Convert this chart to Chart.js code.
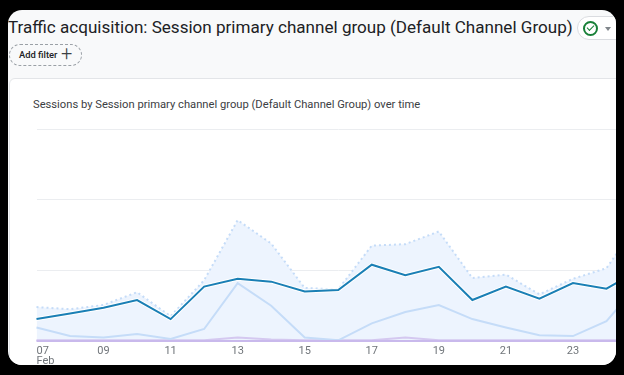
<!DOCTYPE html>
<html>
<head>
<meta charset="utf-8">
<script src="https://cdn.jsdelivr.net/npm/chart.js@4"></script>
<style>
html, body { margin: 0; padding: 0; width: 624px; height: 375px; overflow: hidden; background: #000; font-family: Roboto, Arial, sans-serif; }
#page { position: absolute; left: 8px; top: 10px; width: 608px; height: 355px; background: #f8f9fa; border-radius: 14px; overflow: hidden; }
#title { position: absolute; left: 0px; top: 5px; font-size: 17.07px; line-height: 24px; color: #202124; white-space: nowrap; }
#status { position: absolute; left: 569px; top: 6px; width: 50px; height: 22px; background: #fff; border: 1px solid #dadce0; border-radius: 12px; }
#status .check { position: absolute; left: 5px; top: 4px; width: 11px; height: 11px; border: 2px solid #188038; border-radius: 50%; }
#status .check:after { content: ""; position: absolute; left: 2px; top: 2px; width: 6px; height: 3px; border-left: 1.5px solid #188038; border-bottom: 1.5px solid #188038; transform: rotate(-45deg); }
#status .arrow { position: absolute; left: 27px; top: 10px; border: 3.5px solid transparent; border-top: 4px solid #80868b; }
#filter { position: absolute; left: 1px; top: 34px; width: 71px; height: 20px; border: 1px dashed #9aa0a6; border-radius: 11px; font-size: 9.4px; font-weight: 500; line-height: 20px; color: #202124; }
#filter span { position: absolute; left: 9px; }
#filter i { position: absolute; left: 51px; top: -2px; font-style: normal; font-size: 20px; font-weight: 300; line-height: 20px; color: #3c4043; }
#card { position: absolute; left: 1px; top: 68px; width: 640px; height: 300px; background: #fff; border: 1px solid #e3e5e8; border-radius: 6px; }
#sub { position: absolute; left: 23px; top: 19px; font-size: 11.2px; line-height: 14px; color: #3c4043; white-space: nowrap; }
#wrap { position: absolute; left: -8px; top: -10px; width: 680px; height: 375px; }
</style>
</head>
<body>
<div id="page">
  <div id="card"><div id="sub">Sessions by Session primary channel group (Default Channel Group) over time</div></div>
  <div id="title">Traffic acquisition: Session primary channel group (Default Channel Group)</div>
  <div id="status"><div class="check"></div><div class="arrow"></div></div>
  <div id="filter"><span>Add filter</span><i>+</i></div>
  <div id="wrap"><canvas id="trafficChart" width="680" height="375"></canvas></div>
</div>
<script>
const days = ['07','08','09','10','11','12','13','14','15','16','17','18','19','20','21','22','23','24','25'];
const yTicks = [0, 100, 200, 300];

// no axis labels in the reference so units are relative
const totalDotted = [48, 45, 51, 69, 35, 86, 171, 138, 75, 73, 135, 137, 155, 89, 94, 66, 88, 103, 171];
const organic = [31, 39, 47, 58, 31, 77, 88, 84, 70, 72, 108, 93, 105, 58, 77, 60, 82, 74, 101];
const direct = [19, 7, 5, 10, 3, 17, 82, 50, 5, 1, 25, 41, 51, 31, 19, 8, 7, 28, 83];
const other = [1, 1, 1, 1, 1, 1, 5, 2, 1, 1, 1, 5, 1, 1, 1, 1, 1, 1, 1];
const floorLine = [0, 0, 0, 0, 0, 0, 0, 0, 0, 0, 0, 0, 0, 0, 0, 0, 0, 0, 0];

const ctx = document.getElementById('trafficChart').getContext('2d');
new Chart(ctx, {
    type: 'line',
    data: {
        labels: days,
        datasets: [
            { label: 'Organic halo', data: organic, borderColor: '#ffffff', borderWidth: 4, pointRadius: 0, tension: 0, order: 2 },
            { label: 'Organic', data: organic, borderColor: '#1a7fb5', borderWidth: 2, pointRadius: 0, tension: 0, order: 1 },
            { label: 'Direct', data: direct, borderColor: '#c5dcf8', borderWidth: 2, pointRadius: 0, tension: 0, order: 3 },
            { label: 'Other', data: other, borderColor: '#d4c8f0', borderWidth: 2, pointRadius: 0, tension: 0, order: 4 },
            { label: 'Baseline', data: floorLine, borderColor: '#c9b9ec', borderWidth: 2, pointRadius: 0, tension: 0, clip: false, order: 0 },
            { label: 'Total', data: totalDotted, borderColor: '#c5dcf8', borderWidth: 2, borderDash: [2, 3], pointRadius: 0, tension: 0, fill: 'origin', backgroundColor: '#edf4fe', order: 5 }
        ]
    },
    options: {
        responsive: false,
        animation: false,
        layout: { padding: { left: 36.5, right: 40, top: 129, bottom: 0 } },
        plugins: { legend: { display: false }, tooltip: { enabled: false } },
        scales: {
            x: {
                grid: { display: false, drawTicks: false },
                border: { display: false },
                afterFit: scale => { scale.height = 34; },
                ticks: {
                    autoSkip: false,
                    maxRotation: 0,
                    align: 'inner',
                    padding: 5,
                    color: '#70757a',
                    font: { family: 'Roboto', size: 11, lineHeight: 0.9 },
                    callback: function (value, index) {
                        if (index % 2 !== 0) return '';
                        return index === 0 ? [days[index], 'Feb'] : days[index];
                    }
                }
            },
            y: {
                min: yTicks[0],
                max: yTicks[yTicks.length - 1],
                afterBuildTicks: scale => { scale.ticks = yTicks.map(v => ({ value: v })); },
                afterFit: scale => { scale.width = 0; },
                ticks: { display: false },
                border: { display: false },
                grid: { color: '#ebedf0', lineWidth: 1, drawTicks: false }
            }
        }
    }
});
</script>
</body>
</html>
